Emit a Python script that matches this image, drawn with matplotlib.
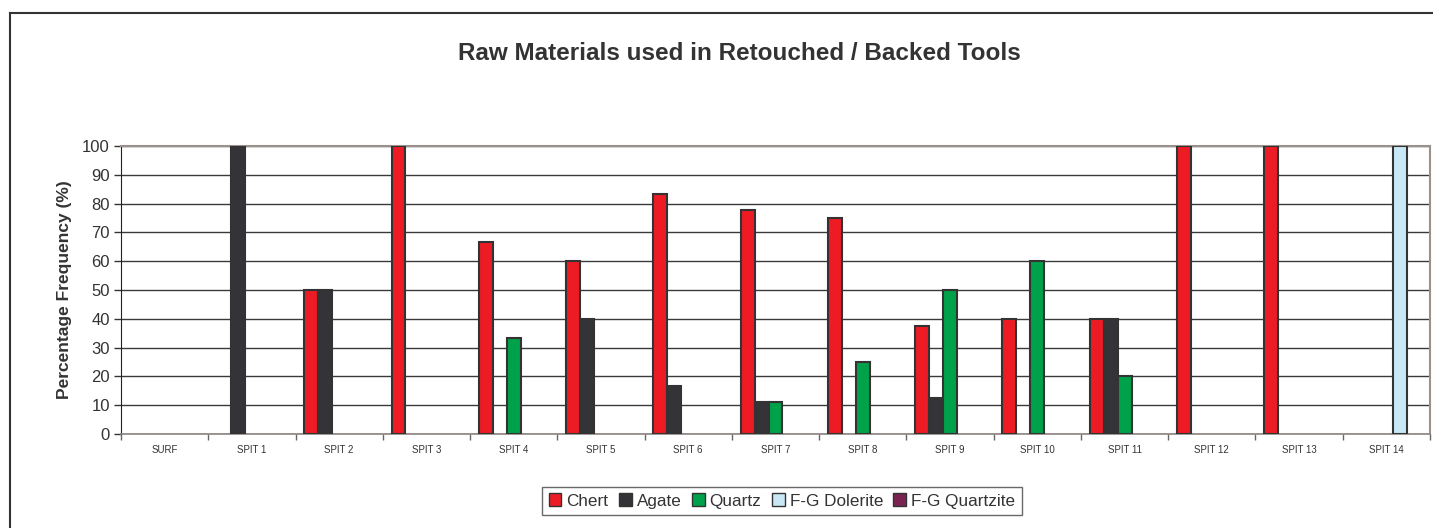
import matplotlib.pyplot as plt
import numpy as np
from matplotlib.lines import Line2D

plt.rcParams['font.family'] = ['Liberation Sans', 'DejaVu Sans']

categories = ['SURF', 'SPIT 1', 'SPIT 2', 'SPIT 3', 'SPIT 4', 'SPIT 5', 'SPIT 6',
              'SPIT 7', 'SPIT 8', 'SPIT 9', 'SPIT 10', 'SPIT 11', 'SPIT 12',
              'SPIT 13', 'SPIT 14']
chert = [0, 0, 50, 100, 66.7, 60, 83.3, 77.8, 75, 37.5, 40, 40, 100, 100, 0]
agate = [0, 100, 50, 0, 0, 40, 16.7, 11.1, 0, 12.5, 0, 40, 0, 0, 0]
quartz = [0, 0, 0, 0, 33.3, 0, 0, 11.1, 25, 50, 60, 20, 0, 0, 0]
fg_dolerite = [0, 0, 0, 0, 0, 0, 0, 0, 0, 0, 0, 0, 0, 0, 100]
fg_quartzite = [0, 0, 0, 0, 0, 0, 0, 0, 0, 0, 0, 0, 0, 0, 0]

series = [('Chert', chert, '#ED1C24'),
          ('Agate', agate, '#333338'),
          ('Quartz', quartz, '#00A14B'),
          ('F-G Dolerite', fg_dolerite, '#C8E8F8'),
          ('F-G Quartzite', fg_quartzite, '#7B2250')]

txt = '#333333'
fig = plt.figure(figsize=(14.33, 5.28), dpi=100)
ax = fig.add_axes([121/1433, 1-434/528, (1430-121)/1433, (434-146)/528])

x = np.arange(len(categories))
w = 0.16
handles = []
for j, (name, vals, col) in enumerate(series):
    vals = np.array(vals, dtype=float)
    lw = np.where(vals > 0, 1.5, 0)
    ax.bar(x + (j - 2) * w, vals, w, color=col, edgecolor='#333333',
           linewidth=lw, zorder=3)
    handles.append(plt.Rectangle((0, 0), 1, 1, facecolor=col,
                                 edgecolor='#333333', linewidth=1))

ax.set_xlim(-0.5, len(categories) - 0.5)
ax.set_ylim(0, 100)
ax.set_yticks(range(0, 101, 10))
ax.yaxis.grid(True, color='#3a3a3a', linewidth=1, zorder=0)
ax.set_axisbelow(True)
ax.tick_params(axis='y', labelsize=12, colors=txt, length=5, width=1,
               direction='out', pad=3)
ax.set_xticks(np.arange(len(categories) + 1) - 0.5)
ax.set_xticklabels([])
ax.tick_params(axis='x', which='major', length=4, width=1, color='#666666',
               direction='out')
ax.set_xticks(x, minor=True)
ax.set_xticklabels(categories, minor=True)
ax.tick_params(axis='x', which='minor', length=0, labelsize=7, colors=txt,
               pad=8)

for s in ['top', 'right']:
    ax.spines[s].set_color('#9b918c')
    ax.spines[s].set_linewidth(1.5)
ax.spines['left'].set_color('#222222')
ax.spines['bottom'].set_color('#8c8580')
ax.spines['bottom'].set_linewidth(1.2)

ax.set_ylabel('Percentage Frequency (%)', fontsize=12.5, fontweight='bold',
              color=txt, labelpad=7)

fig.text(739/1433, 1-53/528, 'Raw Materials used in Retouched / Backed Tools',
         ha='center', va='center', fontsize=17.5, fontweight='bold', color=txt)

leg = fig.legend(handles, [s[0] for s in series], loc='center',
                 bbox_to_anchor=(782/1433, 1-501/528), ncol=5, fontsize=12.3,
                 frameon=True, fancybox=False, handlelength=0.75,
                 handleheight=0.75, handletextpad=0.3, columnspacing=0.6,
                 borderpad=0.4, labelcolor=txt)
leg.get_frame().set_edgecolor('#444444')
leg.get_frame().set_linewidth(1)

# outer chart border (left and top visible)
fig.add_artist(Line2D([10/1433, 10/1433], [0, 1-13/528], color='#333333',
                      linewidth=1.5, transform=fig.transFigure))
fig.add_artist(Line2D([10/1433, 1], [1-13/528, 1-13/528], color='#333333',
                      linewidth=1.5, transform=fig.transFigure))

fig.savefig('out.png', dpi=100)
